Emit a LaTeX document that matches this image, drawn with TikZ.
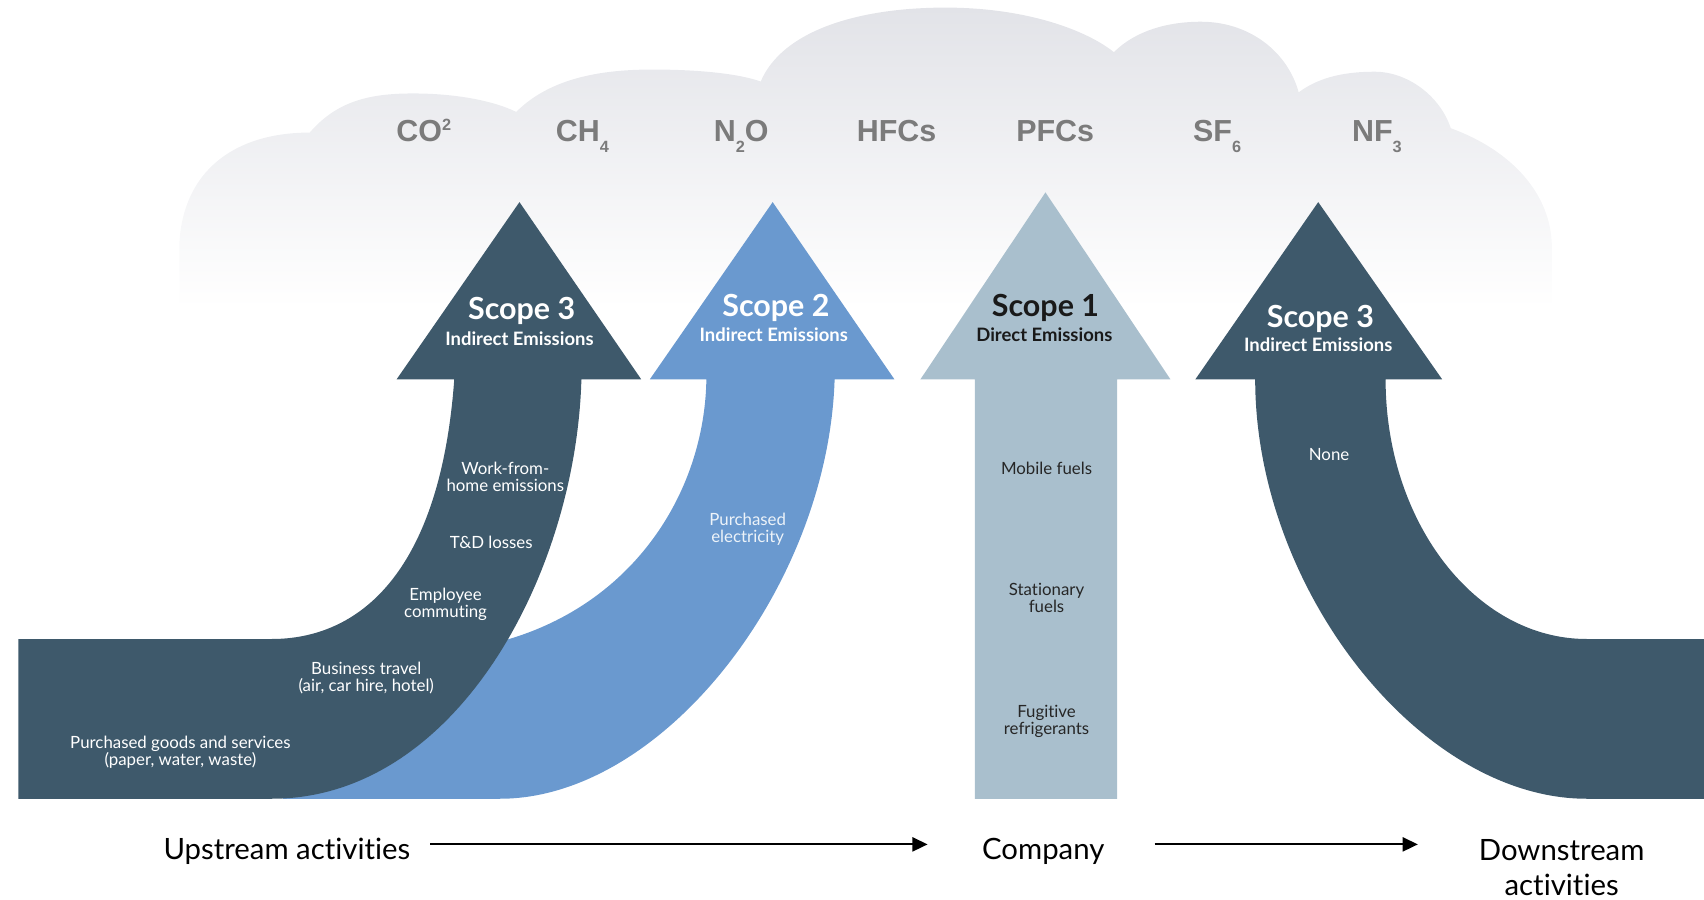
\documentclass[tikz,border=0pt]{standalone}
\usepackage{fontspec}
\setmainfont{Lato}[Ligatures=NoCommon]
\newfontfamily\gasfont{Liberation Sans}
\usetikzlibrary{arrows.meta}

\definecolor{scopedark}{HTML}{3E596B}
\definecolor{scopeblue}{HTML}{6A99CF}
\definecolor{scopelight}{HTML}{A9BFCD}
\definecolor{cloudgrey}{HTML}{E2E3E8}
\definecolor{gasgrey}{HTML}{7B7B7B}

% small figures for the gas formulas
\newcommand\gsub[1]{\raisebox{-10pt}{\fontsize{15}{15}\selectfont #1}}
\newcommand\gsup[1]{\raisebox{10pt}{\fontsize{15}{15}\selectfont #1}}

\tikzset{
  gas/.style={anchor=base, inner sep=0pt, text=gasgrey,
    font=\gasfont\bfseries\fontsize{28}{28}\selectfont},
  scopetitle/.style={anchor=base, inner sep=0pt,
    font=\bfseries\fontsize{28}{28}\selectfont},
  scopesub/.style={anchor=base, inner sep=0pt,
    font=\bfseries\fontsize{17}{17}\selectfont},
  item/.style={inner sep=0pt, align=center,
    font=\fontsize{15.5}{16}\selectfont},
  stage/.style={inner sep=0pt, align=center,
    font=\fontsize{27}{32}\selectfont},
  flow/.style={line width=1.8pt, -{Triangle[length=14pt,width=13pt]}},
}

\begin{document}
\begin{tikzpicture}[x=1pt,y=1pt]
\useasboundingbox (0,0) rectangle (1568,828);

% cloud
\shade[top color=cloudgrey, bottom color=white]
     (165,545) -- (165,603)
  .. controls (168,670) and (215,706) .. (285,706)
  .. controls (310,735) and (340,742) .. (380,742)
  .. controls (420,742) and (455,735) .. (475,725)
  .. controls (505,755) and (550,764) .. (600,764)
  .. controls (645,764) and (680,760) .. (700,753)
  .. controls (720,800) and (790,821) .. (870,821)
  .. controls (945,821) and (1000,800) .. (1025,780)
  .. controls (1045,800) and (1075,808) .. (1105,808)
  .. controls (1150,808) and (1185,780) .. (1195,743)
  .. controls (1215,758) and (1240,762) .. (1265,762)
  .. controls (1295,762) and (1325,740) .. (1335,710)
  .. controls (1390,690) and (1428,650) .. (1428,600)
  -- (1428,545) -- cycle;

\node[gas] (co2) at (390,698) {CO\gsup{2}};
\node[gas] (ch4) at (536,698) {CH\gsub{4}};
\node[gas] (n2o) at (682,698) {N\gsub{2}O};
\node[gas] (hfc) at (825,698) {HFCs};
\node[gas] (pfc) at (971,698) {PFCs};
\node[gas] (sf6) at (1120,698) {SF\gsub{6}};
\node[gas] (nf3) at (1267,698) {NF\gsub{3}};

% scope 2 first, the upstream scope 3 band lies over it
\fill[scopeblue]
     (650,479) -- (598,479) -- (711,642) -- (823,479) -- (768,479)
  .. controls (762,288) and (610,93) .. (460,93)
  -- (260,93) -- (260,228) -- (400,228)
  .. controls (560,238) and (648,358) .. (650,479) -- cycle;

\fill[scopedark]
     (17,93) -- (17,240) -- (250,240)
  .. controls (330,240) and (405,300) .. (418,479)
  -- (365,479) -- (478,642) -- (590,479) -- (535,479)
  .. controls (530,300) and (420,93) .. (250,93) -- cycle;

\fill[scopelight]
     (897,93) -- (897,479) -- (847,479) -- (962,651)
  -- (1077,479) -- (1028,479) -- (1028,93) -- cycle;

\fill[scopedark]
     (1568,93) -- (1568,240) -- (1460,240)
  .. controls (1358,240) and (1275,347) .. (1275,479)
  -- (1327,479) -- (1213,642) -- (1100,479) -- (1155,479)
  .. controls (1155,286) and (1307,93) .. (1460,93) -- cycle;

% arrow heads
\node[scopetitle, text=white] (s3up) at (480,534) {Scope 3};
\node[scopesub, text=white] (s3upsub) at (478,510.5) {Indirect Emissions};
\node[scopetitle, text=white] (s2) at (714,537) {Scope 2};
\node[scopesub, text=white] (s2sub) at (712,514) {Indirect Emissions};
\node[scopetitle, text=black!90] (s1) at (962,537) {Scope 1};
\node[scopesub, text=black!90] (s1sub) at (961,514) {Direct Emissions};
\node[scopetitle, text=white] (s3down) at (1215,527) {Scope 3};
\node[scopesub, text=white] (s3downsub) at (1213,505) {Indirect Emissions};

% sources along the shafts
\node[item, text=white] (wfh) at (465,389) {Work-from-\\home emissions};
\node[item, text=white] (tnd) at (452,329) {T\&D losses};
\node[item, text=white] (commute) at (410,272) {Employee\\commuting};
\node[item, text=white] (travel) at (337,204) {Business travel\\(air, car hire, hotel)};
\node[item, text=white] (goods) at (166,136) {Purchased goods and services\\(paper, water, waste)};
\node[item, text=white!88!scopeblue] (power) at (688,341) {Purchased\\electricity};
\node[item, text=black!85] (mobile) at (963,397) {Mobile fuels};
\node[item, text=black!85] (stationary) at (963,278) {Stationary\\fuels};
\node[item, text=black!85] (fugitive) at (963,164) {Fugitive\\refrigerants};
\node[item, text=white] (none) at (1223,410) {None};

% value chain
\node[stage, anchor=base] (upstream) at (264,37) {Upstream activities};
\node[stage, anchor=base] (company) at (960,37) {Company};
\node[stage] (downstream) at (1437,30) {Downstream\\activities};

\coordinate (flowline) at ([yshift=14pt]company.base);
\draw[flow, shorten <=18pt, shorten >=50pt] (upstream.east |- flowline) -- (company.west |- flowline);
\draw[flow, shorten <=46pt, shorten >=56pt] (company.east |- flowline) -- (downstream.west |- flowline);
\end{tikzpicture}
\end{document}
